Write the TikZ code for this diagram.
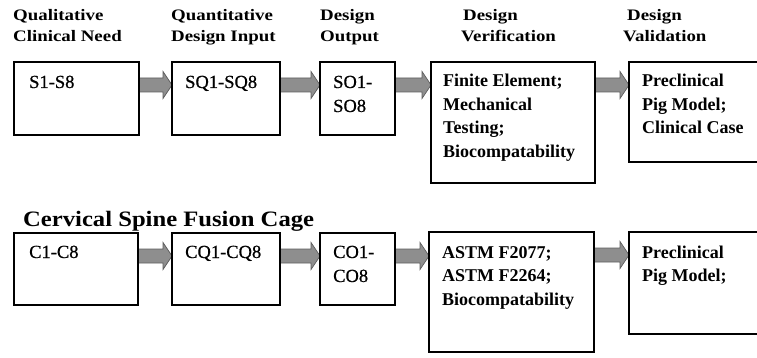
\documentclass[tikz,border=0pt]{standalone}
\usepackage{fontspec}
\setmainfont{Liberation Serif}
\newfontfamily\headfont[FakeStretch=1.18]{Liberation Serif Bold}
\newfontfamily\titlefont[FakeStretch=1.12]{Liberation Serif Bold}
\newfontfamily\medfont[FakeBold=0.6]{Liberation Serif}
\usetikzlibrary{calc,backgrounds}
\definecolor{arrfill}{HTML}{8E8E8E}
\definecolor{arrline}{HTML}{5E5E5E}
\tikzset{
  box/.style={draw=black, line width=1.5pt, fill=white, inner sep=0pt, outer sep=0pt, anchor=north west},
  arr/.style={fill=arrfill, draw=arrline, line width=0.7pt, line join=miter},
  lighttxt/.style={anchor=base west, inner sep=0pt, align=left, font=\fontsize{18.5}{24}\selectfont\medfont},
  boldtxt/.style={anchor=base west, inner sep=0pt, align=left, font=\fontsize{18}{23.5}\selectfont\bfseries},
  headtxt/.style={anchor=base west, inner sep=0pt, align=left, font=\fontsize{16}{21}\selectfont\headfont},
  titletxt/.style={anchor=base west, inner sep=0pt, font=\fontsize{22}{26}\selectfont\titlefont}
}
\begin{document}
\begin{tikzpicture}[x=1pt,y=-1pt]
\useasboundingbox (0,0) rectangle (757,358);
% headings (anchored at the baseline of the last line)
\node[headtxt] (h1) at (13,42) {Qualitative\\Clinical Need};
\node[headtxt] (h2) at (171,42) {Quantitative\\Design Input};
\node[headtxt] (h3) at (320,42) {Design\\Output};
\node[headtxt] (h4) at (461,42) {\hspace{2pt}Design\\Verification};
\node[headtxt] (h5) at (623,42) {\hspace{4pt}Design\\Validation};
% row 1 boxes
\node[box, minimum width=125pt, minimum height=73pt] (b11) at (14,62) {};
\node[box, minimum width=108pt, minimum height=73pt] (b12) at (172,62) {};
\node[box, minimum width=75pt, minimum height=73pt] (b13) at (320,62) {};
\node[box, minimum width=164pt, minimum height=121pt] (b14) at (431,62) {};
\node[box, minimum width=140pt, minimum height=100pt] (b15) at (629,62) {};
% row 2 boxes
\node[box, minimum width=124pt, minimum height=72pt] (b21) at (14,233) {};
\node[box, minimum width=108pt, minimum height=72pt] (b22) at (172,233) {};
\node[box, minimum width=75pt, minimum height=72pt] (b23) at (320,233) {};
\node[box, minimum width=165pt, minimum height=120pt] (b24) at (429,232) {};
\node[box, minimum width=140pt, minimum height=102pt] (b25) at (629,232) {};
% title
\node[titletxt] (title) at (23,226) {Cervical Spine Fusion Cage};
% texts row 1 (anchored at the baseline of the last line)
\node[lighttxt] (t11) at (29,88) {S1-S8};
\node[lighttxt] (t12) at (185,88) {SQ1-SQ8};
\node[lighttxt] (t13) at (333,112) {SO1-\\SO8};
\node[boldtxt] (t14) at (443,157.5) {Finite Element;\\Mechanical\\Testing;\\Biocompatability};
\node[boldtxt] (t15) at (642,134) {Preclinical\\Pig Model;\\Clinical Case};
% texts row 2
\node[lighttxt] (t21) at (29,258) {C1-C8};
\node[lighttxt] (t22) at (185,258) {CQ1-CQ8};
\node[lighttxt] (t23) at (333,282) {CO1-\\CO8};
\node[boldtxt] (t24) at (442,305) {ASTM F2077;\\ASTM F2264;\\Biocompatability};
\node[boldtxt] (t25) at (642,281.5) {Preclinical\\Pig Model;};
% arrows
\begin{scope}[on background layer]
\foreach \a/\b in {b11/b12,b12/b13,b13/b14,b14/b15,b21/b22,b22/b23,b23/b24,b24/b25}{
  \path[arr] let \p1=(\a.north east), \p2=(\b.north west) in
    (\x1,\y1-16pt) -- (\x2-9pt,\y1-16pt) -- (\x2-9pt,\y1-9.5pt) -- (\x2,\y1-23pt)
    -- (\x2-9pt,\y1-36.5pt) -- (\x2-9pt,\y1-30pt) -- (\x1,\y1-30pt) -- cycle;
}
\end{scope}
\end{tikzpicture}
\end{document}
